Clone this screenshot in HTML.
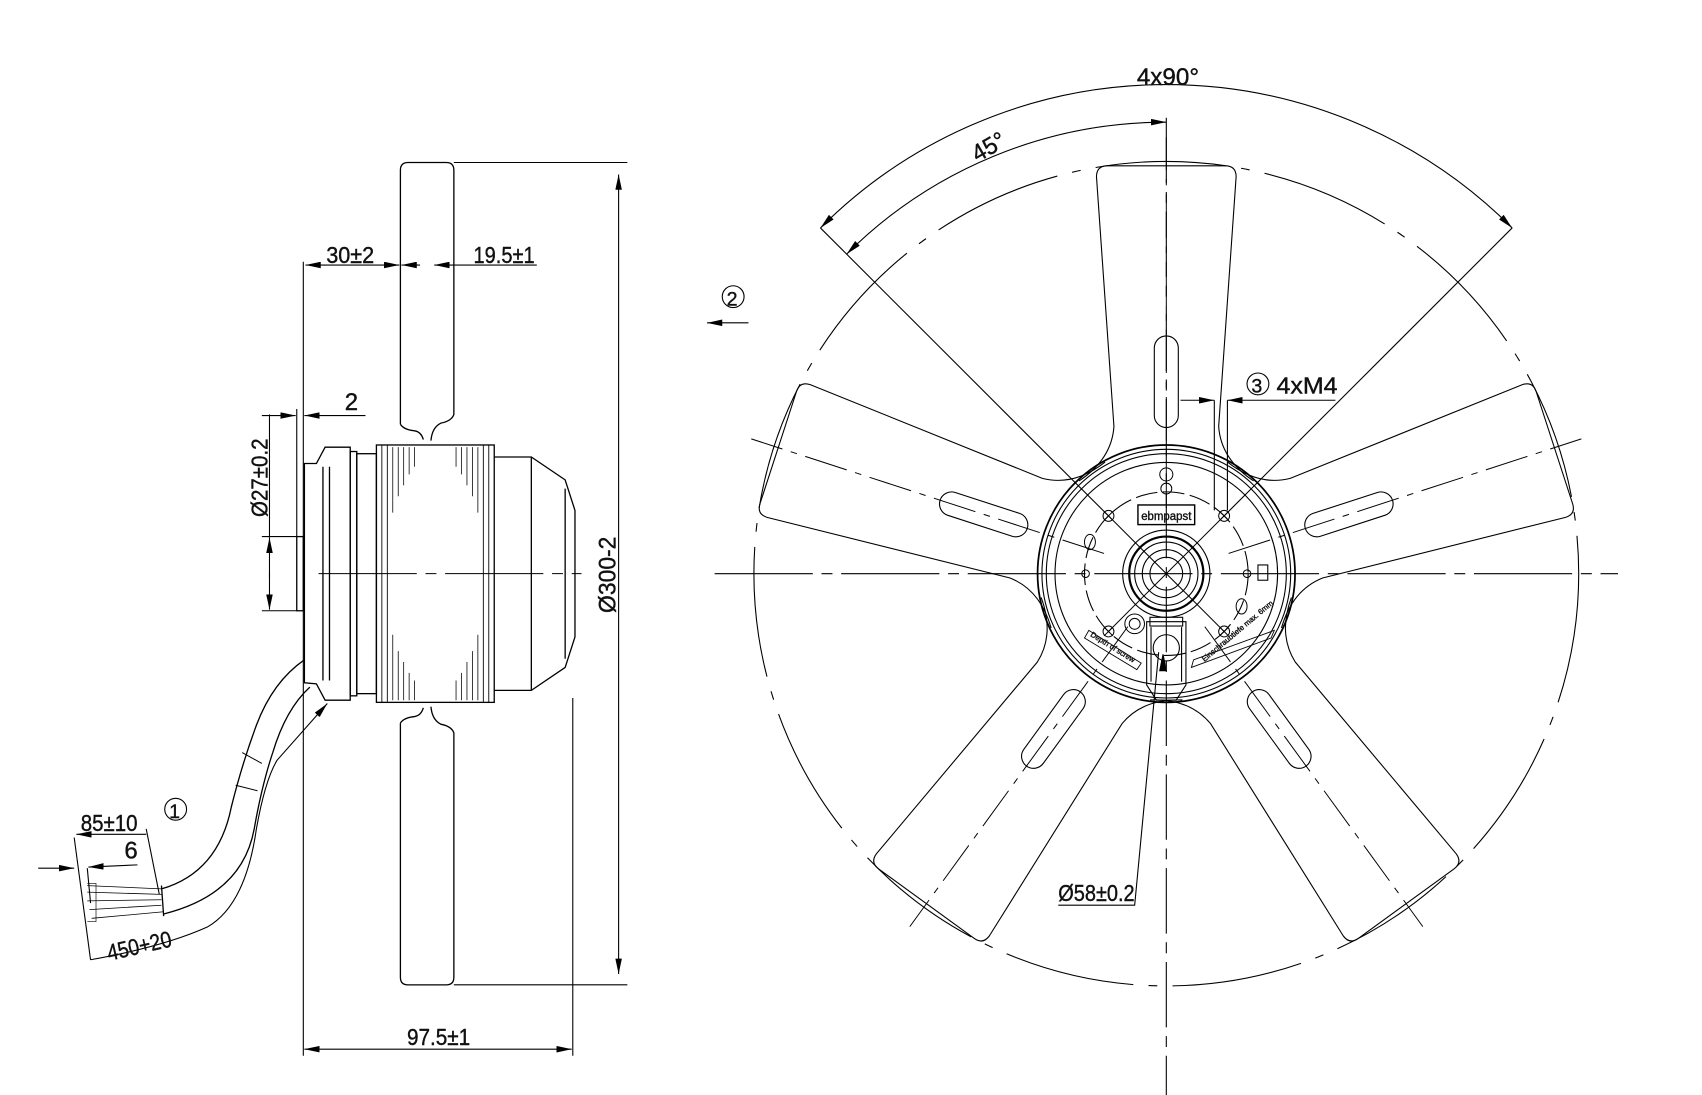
<!DOCTYPE html>
<html><head><meta charset="utf-8"><style>
html,body{margin:0;padding:0;background:#fff;}
svg{display:block;}
text{font-family:"Liberation Sans",sans-serif;fill:#111;stroke:#111;stroke-width:0.35;}
</style></head><body>
<svg width="1702" height="1095" viewBox="0 0 1560 1004" preserveAspectRatio="none" xmlns="http://www.w3.org/2000/svg">
<defs>
<marker id="a" viewBox="0 0 14 6" refX="14" refY="3" markerWidth="14" markerHeight="6" markerUnits="userSpaceOnUse" orient="auto"><path d="M0,0 L14,3 L0,6 Z" fill="#000"/></marker>
<marker id="s" viewBox="0 0 14 6" refX="0" refY="3" markerWidth="14" markerHeight="6" markerUnits="userSpaceOnUse" orient="auto"><path d="M14,0 L0,3 L14,6 Z" fill="#000"/></marker>
<g id="blade">
<path d="M -80,-85 Q -50,-105 -48,-135 L -64,-364 Q -64,-374 -54,-374 L 54,-374 Q 64,-374 64,-364 L 48,-135 Q 50,-105 80,-85" fill="none" stroke="#000" stroke-width="1"/>
<rect x="-11" y="-218" width="22" height="84" rx="11" fill="none" stroke="#000" stroke-width="1"/>
<line x1="0" y1="-60" x2="0" y2="-400" stroke="#000" stroke-width="0.9" stroke-dasharray="40,8,6,8"/>
</g>
</defs>

<!-- ============ LEFT VIEW ============ -->
<g stroke="#000" fill="none" stroke-width="1.2">
<path d="M367,389 L367,156 Q367,149 374,149 L409,149 Q416,149 416,156 L416,380 Q414,386 404,388 Q396,392 395,404"/>
<path d="M367,389 Q370,394 380,395 Q386,396 388,403"/>
<path d="M367,663 L367,896 Q367,903 374,903 L409,903 Q416,903 416,896 L416,672 Q414,666 404,664 Q396,660 395,648"/>
<path d="M367,663 Q370,658 380,657 Q386,656 388,649"/>
<rect x="272" y="492" width="6" height="68"/>
<path d="M279,626 L279,425 L290,425 L298,410 L321,410 L321,642 L298,642 L290,627 Z"/>
<line x1="296" y1="428" x2="296" y2="624"/>
<line x1="302" y1="428" x2="302" y2="624"/>
<rect x="321" y="414" width="6" height="224"/>
<rect x="327" y="416" width="18" height="220"/>
<rect x="345" y="408" width="108" height="236"/>
<path d="M350,408 V644 M355,408 V644 M448,408 V644 M443,408 V644" stroke-width="0.8"/>
<path d="M360,410 V470 M365,410 V455 M370,410 V445 M375,410 V435 M380,410 V428 M438,410 V470 M433,410 V455 M428,410 V445 M423,410 V435 M418,410 V428" stroke-width="0.7"/>
<path d="M360,642 V582 M365,642 V597 M370,642 V607 M375,642 V617 M380,642 V624 M438,642 V582 M433,642 V597 M428,642 V607 M423,642 V617 M418,642 V624" stroke-width="0.7"/>
<path d="M453,419 L487,419 L518,440 L527,468 L527,584 L518,612 L487,633 L453,633"/>
<line x1="487" y1="419" x2="487" y2="633"/>
<line x1="518" y1="448" x2="518" y2="604"/>
<line x1="292" y1="526" x2="533" y2="526" stroke-width="0.9" stroke-dasharray="90,8,10,8"/>
<path d="M279,605 Q250,625 235,665 Q222,700 212,740 Q200,800 148,815"/>
<path d="M284,630 Q262,650 250,690 Q240,720 233,760 Q222,820 150,838"/>
<path d="M222,690 L240,700 M216,720 L236,725" stroke-width="0.9"/>
<path d="M148,815 L80,812 M148,820 L80,818 M148,825 L80,826 M148,830 L82,834 M150,836 L84,842" stroke-width="0.7"/>
<path d="M80,810 L88,810 L88,845 L80,845" stroke-width="0.6"/>
<line x1="148" y1="812" x2="150" y2="840"/>
</g>

<g stroke="#000" fill="none" stroke-width="1">
<line x1="416" y1="149" x2="575" y2="149"/>
<line x1="416" y1="903" x2="575" y2="903"/>
<line x1="567" y1="160" x2="567" y2="893" marker-start="url(#s)" marker-end="url(#a)"/>
<line x1="278" y1="240" x2="278" y2="968"/>
<line x1="525" y1="640" x2="525" y2="968"/>
<line x1="279" y1="962" x2="524" y2="962" marker-start="url(#s)" marker-end="url(#a)"/>
<line x1="280" y1="243" x2="366" y2="243" marker-start="url(#s)" marker-end="url(#a)"/>
<line x1="368" y1="243" x2="385" y2="243" marker-start="url(#s)"/>
<line x1="398" y1="243" x2="492" y2="243" marker-start="url(#s)"/>
<line x1="240" y1="381" x2="271" y2="381" marker-end="url(#a)"/>
<line x1="335" y1="381" x2="279" y2="381" marker-end="url(#a)"/>
<line x1="272" y1="375" x2="272" y2="492"/>
<line x1="240" y1="492" x2="272" y2="492"/>
<line x1="240" y1="560" x2="272" y2="560"/>
<line x1="247" y1="380" x2="247" y2="493" />
<line x1="247" y1="530" x2="247" y2="493" marker-end="url(#a)"/>
<line x1="247" y1="525" x2="247" y2="559" marker-end="url(#a)"/>
<path d="M83,880 Q150,868 190,850 Q225,830 235,760 Q243,715 254,697 L300,645" marker-end="url(#a)"/>
<line x1="68" y1="768" x2="83" y2="880"/>
<line x1="134" y1="760" x2="146" y2="820"/>
<line x1="70" y1="765" x2="134" y2="765" marker-start="url(#s)"/>
<line x1="35" y1="796" x2="68" y2="796" marker-end="url(#a)"/>
<line x1="126" y1="793" x2="81" y2="795" marker-end="url(#a)"/>
<line x1="80" y1="796" x2="83" y2="828"/>
</g>
<g>
<text x="299" y="241" font-size="21" textLength="44" lengthAdjust="spacingAndGlyphs">30±2</text>
<text x="434" y="241" font-size="21" textLength="56" lengthAdjust="spacingAndGlyphs">19.5±1</text>
<text x="316" y="376" font-size="22">2</text>
<text transform="translate(245,474) rotate(-90)" font-size="21" textLength="72" lengthAdjust="spacingAndGlyphs">Ø27±0.2</text>
<text transform="translate(564,562) rotate(-90)" font-size="22" textLength="70" lengthAdjust="spacingAndGlyphs">Ø300-2</text>
<text x="373" y="958" font-size="21" textLength="58" lengthAdjust="spacingAndGlyphs">97.5±1</text>
<text x="74" y="762" font-size="21" textLength="52" lengthAdjust="spacingAndGlyphs">85±10</text>
<text x="114" y="787" font-size="22">6</text>
<text transform="translate(100,881) rotate(-13)" font-size="21" textLength="60" lengthAdjust="spacingAndGlyphs">450+20</text>
<circle cx="161" cy="742" r="10" fill="none" stroke="#000"/>
<text x="155" y="750" font-size="18">1</text>
</g>

<!-- ============ RIGHT VIEW ============ -->
<g stroke="#000" fill="none" stroke-width="1">
<circle cx="1069" cy="526" r="378" stroke-dasharray="120,14,8,14"/>
<use href="#blade" transform="translate(1069,526)"/>
<use href="#blade" transform="translate(1069,526) rotate(72)"/>
<use href="#blade" transform="translate(1069,526) rotate(-72)"/>
<use href="#blade" transform="translate(1069,526) rotate(144)"/>
<use href="#blade" transform="translate(1069,526) rotate(-144)"/>
<line x1="655" y1="526" x2="1483" y2="526" stroke-dasharray="90,8,10,8"/>
<line x1="1069" y1="108" x2="1069" y2="1004" stroke-dasharray="60,8,10,8"/>
<path d="M752,209 A448,448 0 0 1 1386,209" marker-start="url(#s)" marker-end="url(#a)"/>
<path d="M776,233 A414,414 0 0 1 1069,112" marker-start="url(#s)" marker-end="url(#a)"/>
<line x1="752" y1="209" x2="1016" y2="473"/>
<line x1="1386" y1="209" x2="1122" y2="473"/>
<circle cx="1069" cy="526" r="118" stroke-width="1.6"/>
<circle cx="1069" cy="526" r="114"/>
<circle cx="1069" cy="526" r="110"/>
<circle cx="1069" cy="526" r="102"/>
<circle cx="1069" cy="526" r="75" stroke-dasharray="20,5"/>
<circle cx="1069" cy="526" r="40"/>
<circle cx="1069" cy="526" r="34" stroke-width="2"/>
<circle cx="1069" cy="526" r="29"/>
<circle cx="1069" cy="526" r="22"/>
<circle cx="1069" cy="526" r="15"/>
<g stroke-width="0.9">
<circle cx="1016" cy="473" r="5"/><circle cx="1122" cy="473" r="5"/><circle cx="1016" cy="579" r="5"/><circle cx="1122" cy="579" r="5"/>
<path d="M1012,469 l8,8 m0,-8 l-8,8 M1118,469 l8,8 m0,-8 l-8,8 M1012,575 l8,8 m0,-8 l-8,8 M1118,575 l8,8 m0,-8 l-8,8"/>
<circle cx="995" cy="526" r="3.5"/><circle cx="1143" cy="526" r="3.5"/>
<ellipse cx="999" cy="497" rx="5" ry="7"/><ellipse cx="1138" cy="556" rx="5" ry="7"/>
<circle cx="1069" cy="435" r="6"/><circle cx="1069" cy="448" r="5"/>
<circle cx="1040" cy="572" r="9"/><circle cx="1040" cy="572" r="5"/>
<line x1="1016" y1="579" x2="1122" y2="473"/><line x1="1016" y1="473" x2="1122" y2="579"/>
</g>
<rect x="1043" y="463" width="52" height="18" stroke-width="1.3"/>
<path d="M1051,570 L1051,628 L1060,642 L1078,642 L1087,628 L1087,570 Z"/>
<rect x="1054" y="566" width="30" height="8"/>
<circle cx="1069" cy="594" r="12"/>
<path d="M1055,575 V625 M1083,575 V625"/>
<path d="M1063,615 L1066,600 L1069,615 Z" fill="#000"/>
<path d="M1092,612 L1165,585 L1168,578 L1094,605 Z" stroke-width="0.8"/>
<path d="M998,578 L1046,608 L1042,614 L994,585 Z" stroke-width="0.8"/>
<rect x="1153" y="518" width="9" height="14"/>
<line x1="1113" y1="367" x2="1113" y2="468"/>
<line x1="1125" y1="367" x2="1125" y2="468"/>
<line x1="1082" y1="367" x2="1113" y2="367" marker-end="url(#a)"/>
<line x1="1224" y1="367" x2="1125" y2="367" marker-end="url(#a)"/>
<path d="M970,830 L1040,830 L1062,598"/>
<line x1="686" y1="296" x2="648" y2="296" marker-end="url(#a)"/>
</g>
<g>
<text x="1042" y="78" font-size="22" textLength="57" lengthAdjust="spacingAndGlyphs">4x90°</text>
<text transform="translate(896,149) rotate(-30)" font-size="22" textLength="32" lengthAdjust="spacingAndGlyphs">45°</text>
<circle cx="1153" cy="352" r="10" fill="none" stroke="#000"/>
<text x="1147" y="360" font-size="18">3</text>
<text x="1170" y="361" font-size="21" textLength="56" lengthAdjust="spacingAndGlyphs">4xM4</text>
<circle cx="672" cy="272" r="10" fill="none" stroke="#000"/>
<text x="666" y="280" font-size="18">2</text>
<text x="970" y="826" font-size="21" textLength="70" lengthAdjust="spacingAndGlyphs">Ø58±0.2</text>
<text x="1046" y="477" font-size="11" textLength="46" lengthAdjust="spacingAndGlyphs">ebmpapst</text>
<text transform="translate(999,583) rotate(32)" font-size="7" stroke-width="0">Depth of screw</text>
<text transform="translate(1104,607) rotate(-40)" font-size="7" stroke-width="0">Einschraubtiefe max. 6mm</text>
</g>
</svg>
</body></html>
